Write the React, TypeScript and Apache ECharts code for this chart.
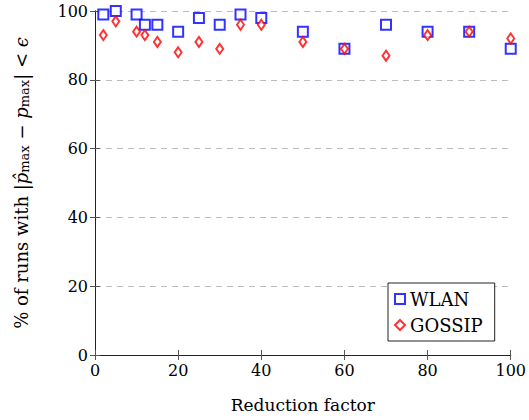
import React, { useEffect, useRef } from "react";
import * as echarts from "echarts";

const factors = [2, 5, 10, 12, 15, 20, 25, 30, 35, 40, 50, 60, 70, 80, 90, 100];
const wlan = [99, 100, 99, 96, 96, 94, 98, 96, 99, 98, 94, 89, 96, 94, 94, 89];
const gossip = [93, 97, 94, 93, 91, 88, 91, 89, 96, 96, 91, 89, 87, 93, 94, 92];
const xTicks = [0, 20, 40, 60, 80, 100];
const yTicks = [0, 20, 40, 60, 80, 100];

const FONT = "DejaVu Serif";

export default function App() {
  const ref = useRef<HTMLDivElement>(null);
  useEffect(() => {
    if (!ref.current) return;
    const chart = echarts.init(ref.current, undefined, { renderer: "svg" });
    const axisLineStyle = { color: "#222", width: 1 };
    chart.setOption({
      animation: false,
      backgroundColor: "#fff",
      textStyle: { fontFamily: FONT },
      grid: { left: 95, top: 11, width: 416, height: 344, containLabel: false },
      xAxis: [
        {
          type: "value",
          min: 0,
          max: 100,
          interval: 20,
          position: "bottom",
          name: "Reduction factor",
          nameLocation: "middle",
          nameGap: 41,
          nameTextStyle: { fontFamily: FONT, fontSize: 17, color: "#000" },
          axisLine: { show: true, lineStyle: axisLineStyle },
          axisTick: { show: true, inside: true, length: 5, lineStyle: { color: "#555" } },
          axisLabel: {
            fontFamily: FONT,
            fontSize: 16,
            color: "#000",
            margin: 7,
            formatter: (v: number) => (xTicks.includes(v) ? String(v) : ""),
          },
          splitLine: { show: false },
        },
        {
          type: "value",
          min: 0,
          max: 100,
          interval: 20,
          position: "top",
          axisLine: { show: true, lineStyle: axisLineStyle },
          axisTick: { show: true, inside: true, length: 5, lineStyle: { color: "#555" } },
          axisLabel: { show: false },
          splitLine: { show: false },
        },
      ],
      yAxis: [
        {
          type: "value",
          min: 0,
          max: 100,
          interval: 20,
          position: "left",
          name:
            "% of runs with |{i|p\u0302}{s|max} \u2212 {i|p}{s|max}| < {i|\u03f5}",
          nameLocation: "middle",
          nameGap: 64,
          nameTextStyle: {
            fontFamily: FONT,
            fontSize: 18,
            color: "#000",
            rich: {
              i: { fontFamily: FONT, fontSize: 18, fontStyle: "italic", color: "#000" },
              s: { fontFamily: FONT, fontSize: 13, color: "#000", verticalAlign: "bottom", padding: [6, 0, 0, 0] },
            },
          },
          axisLine: { show: true, lineStyle: axisLineStyle },
          axisTick: { show: true, inside: true, length: 5, lineStyle: { color: "#555" } },
          axisLabel: {
            fontFamily: FONT,
            fontSize: 16,
            color: "#000",
            margin: 7,
            formatter: (v: number) => (yTicks.includes(v) ? String(v) : ""),
          },
          splitLine: { show: true, lineStyle: { color: "#bbb", type: [6, 5], width: 1 } },
        },
        {
          type: "value",
          min: 0,
          max: 100,
          interval: 20,
          position: "right",
          axisLine: { show: true, lineStyle: axisLineStyle },
          axisTick: { show: true, inside: true, length: 5, lineStyle: { color: "#555" } },
          axisLabel: { show: false },
          splitLine: { show: false },
        },
      ],
      legend: {
        orient: "vertical",
        left: 388,
        top: 283,
        backgroundColor: "#fff",
        borderColor: "#222",
        borderWidth: 1,
        borderRadius: 0,
        padding: [7, 12, 7, 6],
        itemGap: 8,
        itemWidth: 10,
        itemHeight: 10,
        textStyle: { fontFamily: FONT, fontSize: 18, color: "#000" },
      },
      series: [
        {
          name: "WLAN",
          type: "scatter",
          symbol: "emptyRect",
          symbolSize: 10,
          itemStyle: { color: "#0000ff", borderWidth: 1 },
          emphasis: { disabled: true },
          data: factors.map((f, i) => [f, wlan[i]]),
          z: 2,
        },
        {
          name: "GOSSIP",
          type: "scatter",
          symbol: "emptyDiamond",
          symbolSize: [7, 10],
          itemStyle: { color: "#ff0000", borderWidth: 1 },
          emphasis: { disabled: true },
          data: factors.map((f, i) => [f, gossip[i]]),
          z: 3,
        },
      ],
    });
    return () => chart.dispose();
  }, []);
  return (
    <div
      ref={ref}
      style={{ position: "fixed", left: 0, top: 0, width: 529, height: 420 }}
    />
  );
}
